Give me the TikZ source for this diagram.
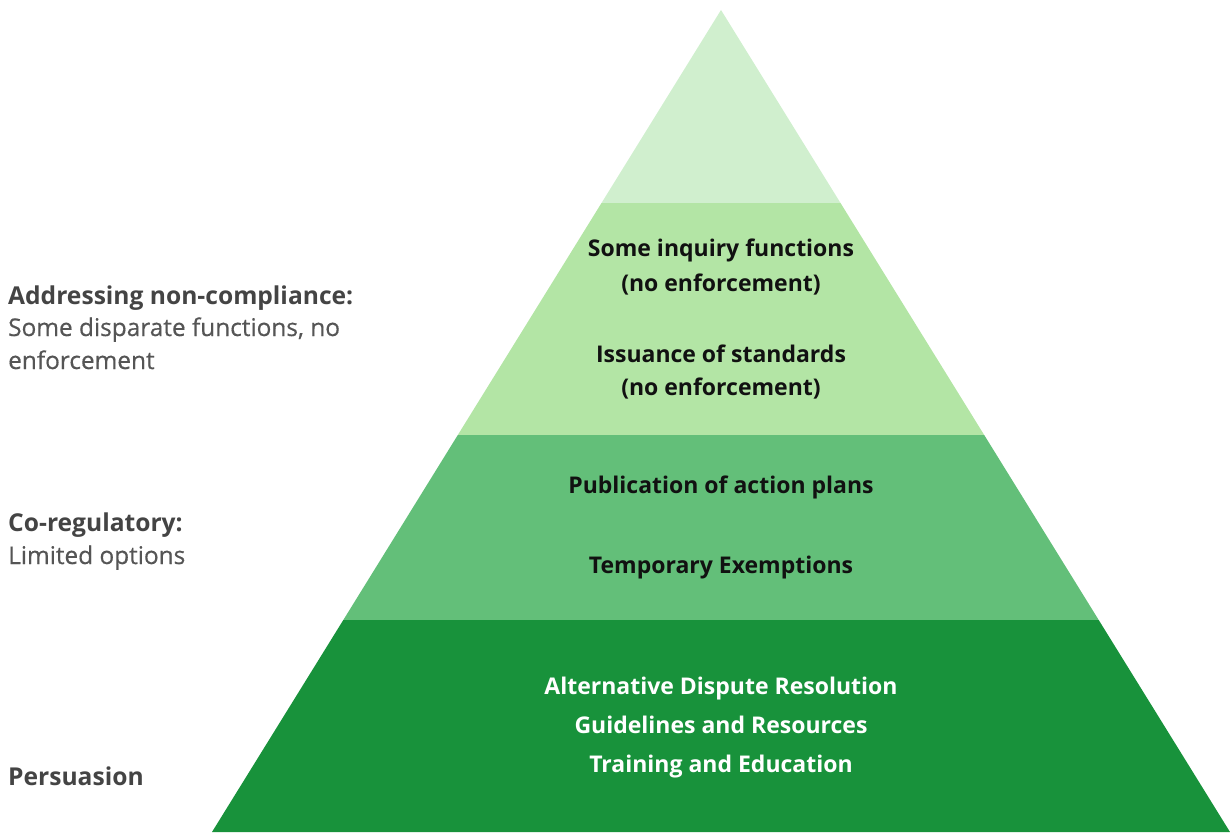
\documentclass[tikz,border=0pt]{standalone}
\usepackage{fontspec}
\setmainfont{Open Sans}
\newfontfamily\semifont[FakeBold=0.5]{Open Sans}
\definecolor{c1}{HTML}{D0EFCE}
\definecolor{c2}{HTML}{B3E5A5}
\definecolor{c3}{HTML}{63BF79}
\definecolor{c4}{HTML}{18923B}
\definecolor{lbl}{HTML}{555555}
\definecolor{lblh}{HTML}{444444}
\definecolor{ink}{HTML}{111111}
\begin{document}
\begin{tikzpicture}[x=1pt,y=-1pt,
  ptext/.style={anchor=base,inner sep=0pt,font=\fontsize{23}{27}\selectfont\bfseries,text=ink},
  wtext/.style={ptext,text=white},
  ltitle/.style={anchor=base west,inner sep=0pt,font=\fontsize{24.6}{29}\selectfont\bfseries,text=lblh},
  ltext/.style={anchor=base west,inner sep=0pt,font=\semifont\fontsize{24.4}{29}\selectfont,text=lbl}]
\useasboundingbox (0,0) rectangle (1230,832);
% pyramid layers (apex 721,10; slope 0.6192)
\coordinate (apex) at (721,10);
\fill[c1] (apex) -- (840.5,203) -- (601.5,203) -- cycle;
\fill[c2] (601.5,203) -- (840.5,203) -- (984.2,435) -- (457.8,435) -- cycle;
\fill[c3] (457.8,435) -- (984.2,435) -- (1098.7,620) -- (343.3,620) -- cycle;
\fill[c4] (343.3,620) -- (1098.7,620) -- (1230,832) -- (212,832) -- cycle;
% layer texts
\node[ptext] (t1) at (721,256) {Some inquiry functions};
\node[ptext] (t2) at (721,291) {(no enforcement)};
\node[ptext] (t3) at (721,362) {Issuance of standards};
\node[ptext] (t4) at (721,395) {(no enforcement)};
\node[ptext] (t5) at (721,493) {Publication of action plans};
\node[ptext] (t6) at (721,573) {Temporary Exemptions};
\node[wtext] (t7) at (721,694) {Alternative Dispute Resolution};
\node[wtext] (t8) at (721,733) {Guidelines and Resources};
\node[wtext] (t9) at (721,772) {Training and Education};
% side labels
\node[ltitle] (l1) at (8,304) {Addressing non-compliance:};
\node[ltext] (l2) at (8,336) {Some disparate functions, no};
\node[ltext] (l3) at (8,369) {enforcement};
\node[ltitle] (l4) at (8,531) {Co-regulatory:};
\node[ltext] (l5) at (8,564) {Limited options};
\node[ltitle] (l6) at (8,785) {Persuasion};
\end{tikzpicture}
\end{document}
